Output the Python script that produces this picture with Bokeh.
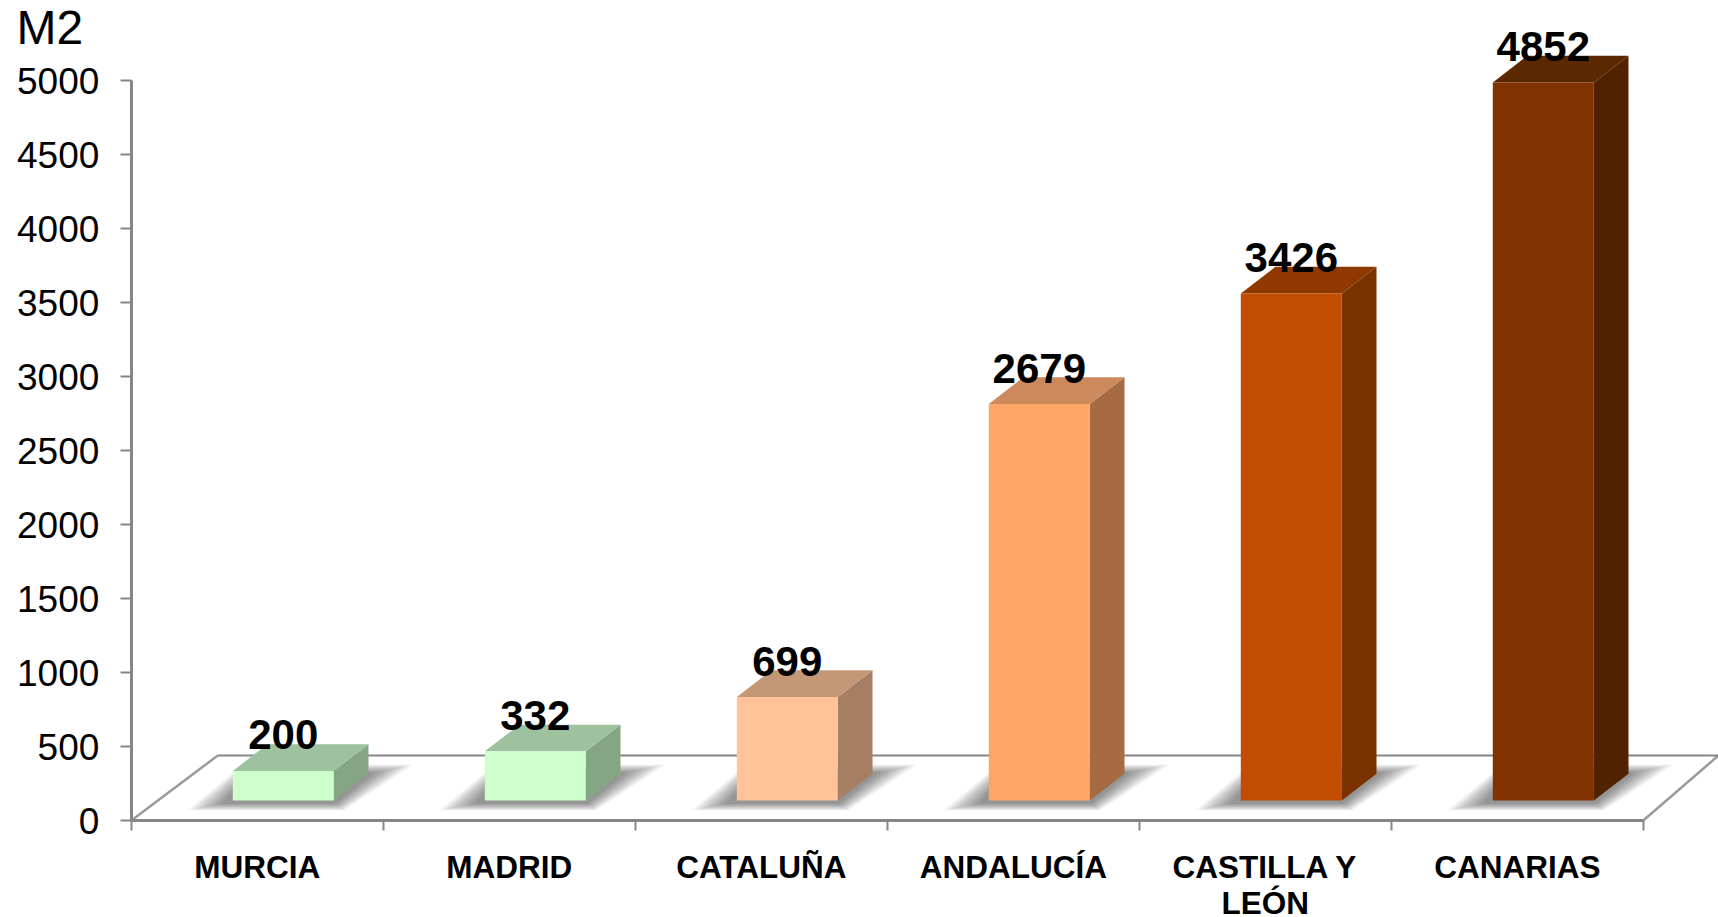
from bokeh.plotting import figure
from bokeh.models import FixedTicker, Label, ColumnDataSource
from bokeh.core.properties import value
from bokeh.embed import file_html
from bokeh.resources import INLINE

categories = ["MURCIA", "MADRID", "CATALUÑA", "ANDALUCÍA", "CASTILLA Y\nLEÓN", "CANARIAS"]
values = [200, 332, 699, 2679, 3426, 4852]
front_colors = ["#CCFFCC", "#CCFFCC", "#FFC299", "#FFA666", "#C04D00", "#803300"]
top_colors = ["#9DC29D", "#9DC29D", "#C49877", "#CC8A5C", "#8F3900", "#5C2800"]
side_colors = ["#84A684", "#84A684", "#A67E63", "#A66B42", "#7A3100", "#522100"]
y_ticks = list(range(0, 5001, 500))

W, H = 1718, 917
LEFT, Y0, Y5000, CELL = 130.8, 820.0, 80.0, 252.0
PX = (Y0 - Y5000) / 5000
BASE = 20.0 / PX          # bars stand on the floor, in front of the axis plane
DEPTH_Y = 26.7 / PX
DEPTH_X = 34.7 / CELL
BAR_L = 101.5 / CELL
BAR_R = 202.5 / CELL
BACK = 65.0 / PX
BACK_X = 86.5 / CELL
GRAY = "#868686"
FONT = value("Liberation Sans")

p = figure(width=W, height=H, output_backend="svg", toolbar_location=None,
           x_range=(-LEFT / CELL, (W - LEFT) / CELL), y_range=((Y0 - H) / PX, Y0 / PX),
           min_border=0, outline_line_color=None,
           background_fill_color="white", border_fill_color="white")
p.grid.visible = False

fx_end = (W - LEFT) / CELL
p.line([0, BACK_X], [0, BACK], line_color="#9a9a9a", line_width=2.5)
p.line([6, fx_end], [0, BACK], line_color="#9a9a9a", line_width=2.5)
p.line([BACK_X, fx_end], [BACK, BACK], line_color=GRAY, line_width=2)

# soft floor shadows: nested parallelograms, outer to inner
LAYERS = 14
for i, v in enumerate(values):
    x0, x1 = i + BAR_L, i + BAR_R
    b = BASE
    for k in range(LAYERS):
        s = k / (LAYERS - 1)
        ybot = b + (-10 + 7 * s) / PX
        ytop = b + (36 - 8 * s) / PX
        xs = [x0 + (-46 + 36 * s) / CELL, x1 + (10 - 8 * s) / CELL,
              x1 + (80 - 40 * s) / CELL, x0 + (10 + 8 * s) / CELL]
        p.patch(xs, [ybot, ybot, ytop, ytop], fill_color="black", fill_alpha=0.034, line_color=None)

xs_top, ys_top, xs_side, ys_side = [], [], [], []
for i, v in enumerate(values):
    x0, x1 = i + BAR_L, i + BAR_R
    b, t = BASE, BASE + v
    xs_top.append([x0, x1, x1 + DEPTH_X, x0 + DEPTH_X])
    ys_top.append([t, t, t + DEPTH_Y, t + DEPTH_Y])
    xs_side.append([x1, x1 + DEPTH_X, x1 + DEPTH_X, x1])
    ys_side.append([b, b + DEPTH_Y, t + DEPTH_Y, t])

p.patches(xs_side, ys_side, fill_color=side_colors, line_color=None)
p.patches(xs_top, ys_top, fill_color=top_colors, line_color=None)
p.quad(left=[i + BAR_L for i in range(6)], right=[i + BAR_R for i in range(6)],
       bottom=[BASE] * 6, top=[BASE + v for v in values], fill_color=front_colors, line_color=None)

src = ColumnDataSource(dict(x=[i + (BAR_L + BAR_R) / 2 for i in range(6)],
                            y=[BASE + v for v in values], t=[str(v) for v in values]))
p.text("x", "y", text="t", source=src, text_font=FONT, text_font_style="bold",
       text_font_size="42px", text_align="center", text_baseline="alphabetic",
       text_color="black", y_offset=-36)

xa = p.xaxis[0]
xa.fixed_location = 0
xa.ticker = FixedTicker(ticks=[i + .5 for i in range(6)], minor_ticks=list(range(7)))
xa.major_label_overrides = {i + .5: c for i, c in enumerate(categories)}
xa.bounds = (0, 6)
xa.major_tick_in = xa.major_tick_out = 0
xa.minor_tick_in = 0
xa.minor_tick_out = 10
xa.minor_tick_line_color = GRAY
xa.minor_tick_line_width = 2
xa.axis_line_color = GRAY
xa.axis_line_width = 3
xa.major_label_standoff = 18
xa.major_label_text_font = "Liberation Sans"
xa.major_label_text_font_style = "bold"
xa.major_label_text_font_size = "31.5px"
xa.major_label_text_line_height = 1.0
xa.major_label_text_color = "black"

ya = p.yaxis[0]
ya.fixed_location = 0
ya.ticker = FixedTicker(ticks=y_ticks)
ya.bounds = (0, 5000)
ya.minor_tick_line_color = None
ya.major_tick_in = 0
ya.major_tick_out = 11
ya.major_tick_line_color = GRAY
ya.major_tick_line_width = 2
ya.axis_line_color = GRAY
ya.axis_line_width = 3
ya.major_label_standoff = 21
ya.major_label_text_font = "Liberation Sans"
ya.major_label_text_font_size = "37px"
ya.major_label_text_color = "black"

p.add_layout(Label(x=16, y=53, x_units="canvas", y_units="canvas", text="M2",
                   text_font="Liberation Sans", text_font_size="48px", text_color="black"))

open("out.html", "w").write(file_html(p, INLINE))
